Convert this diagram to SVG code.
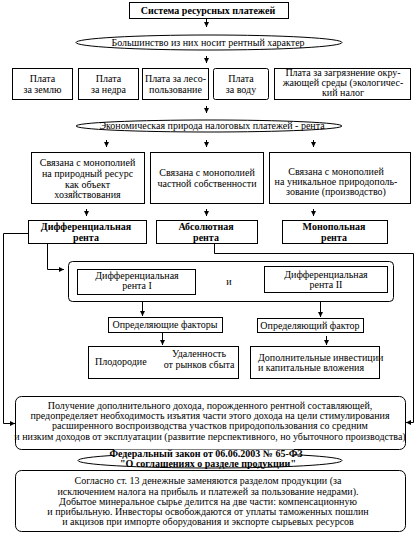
<svg xmlns="http://www.w3.org/2000/svg" width="416" height="533" viewBox="0 0 416 533">
<defs>
<marker id="ah" viewBox="0 0 6 6" refX="6" refY="3" markerWidth="5" markerHeight="5" markerUnits="userSpaceOnUse" orient="auto"><path d="M0,0 L6,3 L0,6 z" fill="#000"/></marker>
<style>
rect, ellipse { fill: #fff; stroke: #000; stroke-width: 1; }
.c { fill: none; stroke: #000; stroke-width: 1; marker-end: url(#ah); }
.ln { fill: none; stroke: #000; stroke-width: 1; }
text { font-family: "Liberation Serif", "Times New Roman", serif; font-size: 10px; fill: #000; text-anchor: middle; }
.b { font-weight: bold; }
.l { text-anchor: start; }
</style>
</defs>
<rect x="0" y="0" width="416" height="533" style="stroke:none;fill:#fff"/>

<g id="connectors">
<path class="c" d="M206.5,19 V27"/>
<path class="c" d="M206.5,56 V63"/>
<path class="c" d="M206.5,106 V113"/>
<path class="c" d="M106.5,140 V147"/>
<path class="c" d="M206.5,140 V147"/>
<path class="c" d="M313.5,140 V147"/>
<path class="c" d="M86.5,209 V216"/>
<path class="c" d="M206.5,209 V216"/>
<path class="c" d="M313.5,209 V216"/>
<path class="c" d="M28,233.5 H3.5 V423.5 H15"/>
<path class="c" d="M47.5,244 V269.5 H64"/>
<path class="c" d="M214.5,243 V253.5 H413.5 V422.5 H406"/>
<path class="c" d="M142.5,294 V316"/>
<path class="c" d="M320.5,293 V317"/>
<path class="c" d="M162.5,332 V345"/>
<path class="c" d="M326.5,336 V345"/>
</g>

<g id="n-title">
<rect x="129.5" y="2.5" width="159" height="16"/>
<text class="b" x="208" y="14">Система ресурсных платежей</text>
</g>

<g id="n-ell1">
<ellipse cx="209" cy="42.5" rx="133" ry="7.5"/>
<text x="208" y="46">Большинство из них носит рентный  характер</text>
</g>

<g id="n-zemlya">
<rect x="12.5" y="68.5" width="60" height="31"/>
<text x="42.5" y="82">Плата</text>
<text x="42.5" y="93">за землю</text>
</g>
<g id="n-nedra">
<rect x="78.5" y="68.5" width="60" height="31"/>
<text x="108.5" y="82">Плата</text>
<text x="108.5" y="93">за недра</text>
</g>
<g id="n-les">
<rect x="142.5" y="68.5" width="66" height="31"/>
<text x="175.5" y="82">Плата за лесо-</text>
<text x="175.5" y="93">пользование</text>
</g>
<g id="n-voda">
<rect x="213.5" y="68.5" width="55" height="31" rx="2"/>
<text x="241" y="82">Плата</text>
<text x="241" y="93">за воду</text>
</g>
<g id="n-eco">
<rect x="274.5" y="68.5" width="136" height="31"/>
<text x="343" y="76">Плата за загрязнение окру-</text>
<text x="343" y="86">жающей среды (экологичес-</text>
<text x="343" y="96">кий налог</text>
</g>

<g id="n-ell2">
<ellipse cx="209" cy="126" rx="133" ry="6"/>
<text x="212" y="129">Экономическая природа налоговых платежей - рента</text>
</g>

<g id="n-monA">
<rect x="31.5" y="152.5" width="113" height="51"/>
<text x="87.5" y="166">Связана с монополией</text>
<text x="87.5" y="177">на природный ресурс</text>
<text x="87.5" y="187.5">как объект</text>
<text x="87.5" y="198">хозяйствования</text>
</g>
<g id="n-monB">
<rect x="150.5" y="152.5" width="113" height="51"/>
<text x="207" y="176">Связана с монополией</text>
<text x="207" y="187">частной собственности</text>
</g>
<g id="n-monC">
<rect x="269.5" y="152.5" width="141" height="51"/>
<text x="336" y="175">Связана с монополией</text>
<text x="336" y="185">на уникальное природополь-</text>
<text x="336" y="195">зование (производство)</text>
</g>

<g id="n-diff">
<rect x="28.5" y="220.5" width="118" height="23"/>
<text class="b" x="86" y="230">Дифференциальная</text>
<text class="b" x="86" y="240.5">рента</text>
</g>
<g id="n-abs">
<rect x="156.5" y="220.5" width="101" height="23"/>
<text class="b" x="206" y="230">Абсолютная</text>
<text class="b" x="206" y="240.5">рента</text>
</g>
<g id="n-mono">
<rect x="282.5" y="220.5" width="105" height="23"/>
<text class="b" x="334" y="230">Монопольная</text>
<text class="b" x="334" y="240.5">рента</text>
</g>

<g id="n-group">
<rect x="68.5" y="261.5" width="325" height="40" rx="4"/>
<text x="229" y="285">и</text>
</g>
<g id="n-diff1">
<rect x="77.5" y="269.5" width="118" height="25"/>
<text x="137" y="279">Дифференциальная</text>
<text x="137" y="289">рента I</text>
</g>
<g id="n-diff2">
<rect x="264.5" y="266.5" width="123" height="26"/>
<text x="326" y="278">Дифференциальная</text>
<text x="326" y="288">рента II</text>
</g>

<g id="n-factors">
<rect x="108.5" y="317.5" width="114" height="15"/>
<text x="165" y="328">Определяющие факторы</text>
</g>
<g id="n-factor">
<rect x="257.5" y="318.5" width="106" height="14"/>
<text x="310" y="328.5">Определяющий фактор</text>
</g>

<g id="n-fert">
<rect x="88.5" y="346.5" width="150" height="32"/>
<text class="l" x="95" y="365">Плодородие</text>
<text x="199" y="357">Удаленность</text>
<text x="199" y="368">от рынков сбыта</text>
</g>
<g id="n-invest">
<rect x="250.5" y="346.5" width="129" height="32"/>
<text class="l" x="258" y="361">Дополнительные инвестиции</text>
<text class="l" x="258" y="371">и капитальные вложения</text>
</g>

<g id="n-income">
<rect x="15.5" y="396.5" width="390" height="53" rx="6"/>
<text x="210" y="408.5">Получение дополнительного дохода, порожденного рентной составляющей,</text>
<text x="210" y="419">предопределяет необходимость изъятия части этого дохода на цели стимулирования</text>
<text x="210" y="429">расширенного воспроизводства участков природопользования со средним</text>
<text x="210" y="439.5">и низким доходов от эксплуатации (развитие перспективного, но убыточного производства)</text>
</g>

<g id="n-law">
<ellipse cx="210" cy="460.5" rx="132" ry="7.5"/>
<rect x="114" y="449.5" width="180" height="8" style="stroke:none"/>
<text class="b" x="206" y="457">Федеральный закон от 06.06.2003 № 65-ФЗ</text>
<text class="b" x="208" y="466.5">"О соглашениях о разделе продукции"</text>
</g>

<g id="n-psa">
<rect x="15.5" y="470.5" width="390" height="61" rx="6"/>
<text x="208" y="484">Согласно ст. 13 денежные заменяются разделом продукции (за</text>
<text x="208" y="494.5">исключением налога на прибыль и платежей за пользование недрами).</text>
<text x="208" y="505">Добытое минеральное сырье делится на две части: компенсационную</text>
<text x="208" y="515">и прибыльную. Инвесторы освобождаются от уплаты таможенных пошлин</text>
<text x="208" y="525">и акцизов при импорте оборудования и экспорте сырьевых ресурсов</text>
</g>
</svg>
